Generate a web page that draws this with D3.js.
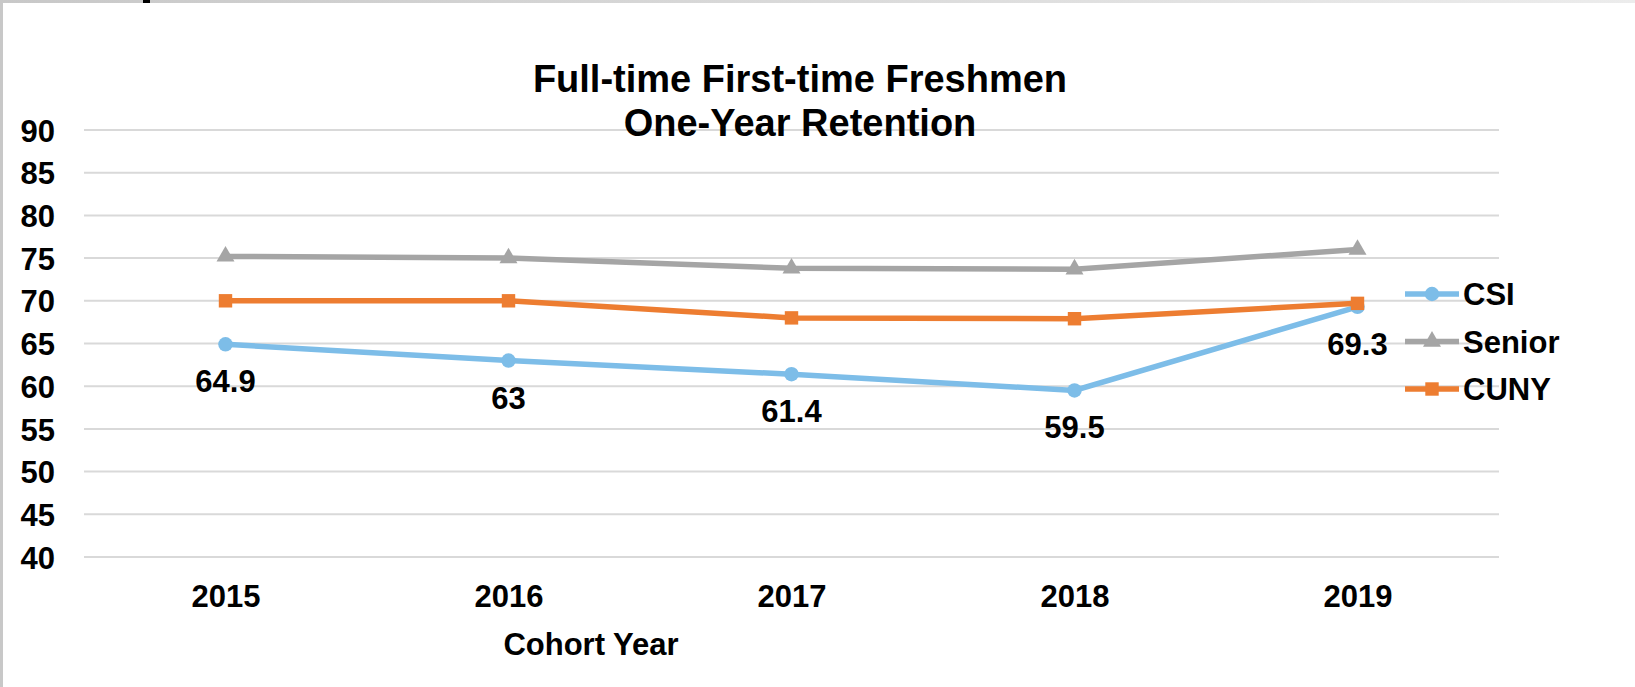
<!DOCTYPE html>
<meta charset="utf-8">
<style>
    body { margin: 0; background: #fff; }
    text { font-family: "Liberation Sans", Arial, sans-serif; font-weight: bold; fill: #000; }
    .grid line { stroke: #d9d9d9; stroke-width: 2px; }
    .line { fill: none; stroke-width: 5.5px; }
</style>
<svg width="1635" height="687"></svg>
<script src="https://cdn.jsdelivr.net/npm/d3@7"></script>
<script>

    var years = ["2015", "2016", "2017", "2018", "2019"];
    var seriesNames = ["CSI", "Senior", "CUNY"];
    var csiValues = [64.9, 63, 61.4, 59.5, 69.3];
    var seniorValues = [75.2, 75.0, 73.8, 73.7, 76.0];
    var cunyValues = [70.0, 70.0, 68.0, 67.9, 69.7];
    var yTicks = [40, 45, 50, 55, 60, 65, 70, 75, 80, 85, 90];
    var titleLines = ["Full-time First-time Freshmen", "One-Year Retention"];

    var svg = d3.select("svg");

    var colors = {CSI: "#7dbde8", Senior: "#a5a5a5", CUNY: "#ed7d31"};
    var symbols = {CSI: d3.symbolCircle, Senior: d3.symbolTriangle, CUNY: d3.symbolSquare};
    var symSize = {CSI: 165, Senior: 140, CUNY: 180};

    var series = [
        {id: "CSI", values: csiValues},
        {id: "Senior", values: seniorValues},
        {id: "CUNY", values: cunyValues}
    ];

    var x = d3.scalePoint().domain(years).range([84, 1499]).padding(0.5),
        y = d3.scaleLinear().domain([40, 90]).range([557, 130]);

    // frame bits at top/left edge
    var grad = svg.append("defs").append("linearGradient").attr("id", "topband");
    grad.append("stop").attr("offset", "0%").attr("stop-color", "#c8c8c8");
    grad.append("stop").attr("offset", "100%").attr("stop-color", "#ececec");
    svg.append("rect").attr("x", 0).attr("y", 0).attr("width", 1635).attr("height", 3).attr("fill", "url(#topband)");
    svg.append("rect").attr("x", 0).attr("y", 0).attr("width", 3).attr("height", 687).attr("fill", "#c8c8c8");
    svg.append("rect").attr("x", 143).attr("y", 0).attr("width", 7).attr("height", 3).attr("fill", "#000");

    // gridlines
    svg.append("g").attr("class", "grid")
        .selectAll("line")
        .data(yTicks)
        .enter().append("line")
        .attr("x1", 84).attr("x2", 1499)
        .attr("y1", function(d) { return y(d); })
        .attr("y2", function(d) { return y(d); });

    // y axis labels
    var yAxis = svg.append("g")
        .attr("transform", "translate(55,0)")
        .call(d3.axisLeft(y).tickValues(yTicks).tickSize(0).tickPadding(0));
    yAxis.select(".domain").remove();
    yAxis.selectAll("text").style("font-size", "31px").attr("dy", "0.36em");

    // x axis labels
    var xAxis = svg.append("g")
        .attr("transform", "translate(0,607)")
        .call(d3.axisBottom(x).tickSize(0).tickPadding(0));
    xAxis.select(".domain").remove();
    xAxis.selectAll("text").style("font-size", "31px").attr("dy", "0").attr("y", 0);

    svg.append("text")
        .attr("x", 591).attr("y", 655)
        .attr("text-anchor", "middle")
        .style("font-size", "31px")
        .text("Cohort Year");

    // title
    svg.append("g").selectAll("text")
        .data(titleLines)
        .enter().append("text")
        .attr("x", 800)
        .attr("y", function(d, i) { return 92 + i * 44; })
        .attr("text-anchor", "middle")
        .style("font-size", "38px")
        .text(function(d) { return d; });

    var line = d3.line()
        .x(function(d, i) { return x(years[i]); })
        .y(function(d) { return y(d); });

    var s = svg.selectAll(".series")
        .data(series)
        .enter().append("g")
        .attr("class", "series");

    s.append("path")
        .attr("class", "line")
        .attr("d", function(d) { return line(d.values); })
        .style("stroke", function(d) { return colors[d.id]; });

    s.each(function(d) {
        d3.select(this).selectAll("path.pt")
            .data(d.values)
            .enter().append("path")
            .attr("class", "pt")
            .attr("d", d3.symbol().type(symbols[d.id]).size(symSize[d.id]))
            .attr("transform", function(v, i) { return "translate(" + x(years[i]) + "," + y(v) + ")"; })
            .style("fill", colors[d.id]);
    });

    // data labels for CSI
    svg.append("g").selectAll("text")
        .data(csiValues)
        .enter().append("text")
        .attr("x", function(d, i) { return x(years[i]); })
        .attr("y", function(d) { return y(d) + 48; })
        .attr("text-anchor", "middle")
        .style("font-size", "31px")
        .text(function(d) { return d; });

    // legend
    var legend = svg.append("g").selectAll("g")
        .data(seriesNames)
        .enter().append("g")
        .attr("transform", function(d, i) { return "translate(1405," + (294 + i * 47.5) + ")"; });

    legend.append("line")
        .attr("x1", 0).attr("x2", 54)
        .attr("y1", 0).attr("y2", 0)
        .style("stroke", function(d) { return colors[d]; })
        .style("stroke-width", "5.5px");

    legend.append("path")
        .attr("d", function(d) { return d3.symbol().type(symbols[d]).size(symSize[d])(); })
        .attr("transform", "translate(27,0)")
        .style("fill", function(d) { return colors[d]; });

    legend.append("text")
        .attr("x", 58)
        .attr("dy", "0.36em")
        .style("font-size", "31px")
        .text(function(d) { return d; });

</script>
